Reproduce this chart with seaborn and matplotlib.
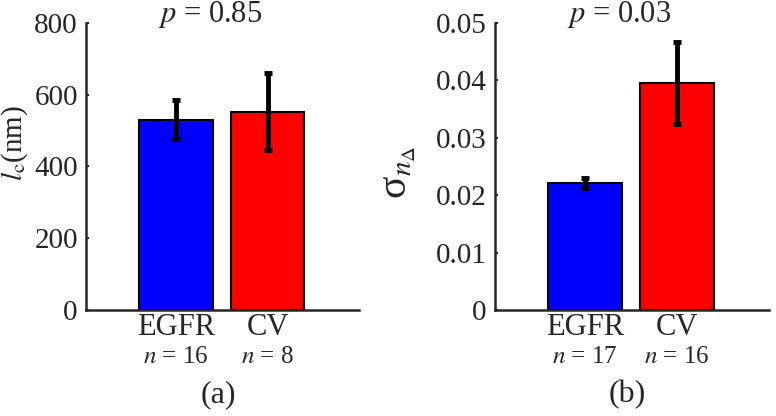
import matplotlib
matplotlib.use("Agg")
import matplotlib.pyplot as plt
import seaborn as sns
import pandas as pd

sns.set_theme(style="ticks")
plt.rcParams['font.family'] = ['Liberation Serif', 'DejaVu Serif']
plt.rcParams['mathtext.fontset'] = 'stix'

# data
groups = ['EGFR', 'CV']
bar_colors = ['#0000ff', '#ff0000']

lc_mean = [530, 553]
lc_err = [55, 106]
lc_n = [16, 8]
lc_p = '0.85'

sigma_mean = [0.0221, 0.0395]
sigma_err = [0.0008, 0.0072]
sigma_n = [17, 16]
sigma_p = '0.03'

fig = plt.figure(figsize=(7.76, 4.16), dpi=100)
ax_a = fig.add_axes([0.111, 0.255, 0.352, 0.690])
ax_b = fig.add_axes([0.638, 0.255, 0.353, 0.690])

panels = [
    (ax_a, lc_mean, lc_err, lc_n, lc_p, (0, 800), [0, 200, 400, 600, 800],
     ['0', '200', '400', '600', '800'], r'$l_{\rm c}$(nm)', 21, '(a)', (-0.205, 0.58)),
    (ax_b, sigma_mean, sigma_err, sigma_n, sigma_p, (0, 0.05),
     [0, 0.01, 0.02, 0.03, 0.04, 0.05],
     ['0', '0.01', '0.02', '0.03', '0.04', '0.05'], r'σ$_{n_\Delta}$', 30, '(b)', (-0.28, 0.48)),
]

for ax, mean, err, n, p, ylim, yticks, yticklabels, ylabel, ylsize, tag, lab_xy in panels:
    df = pd.DataFrame({'group': groups, 'value': mean})
    sns.barplot(data=df, x='group', y='value', hue='group', palette=bar_colors,
                legend=False, width=0.8, edgecolor='black', linewidth=1.5,
                saturation=1, ax=ax)
    ax.errorbar(range(len(groups)), mean, yerr=err, fmt='none', ecolor='black',
                elinewidth=3.5, capsize=3, capthick=3.5, zorder=5)
    ax.set_xlim(-0.98, 2.0)
    ax.set_ylim(*ylim)
    ax.set_yticks(yticks)
    ax.set_yticklabels(yticklabels, fontsize=21)
    ax.set_xticks(range(len(groups)))
    ax.set_xticklabels(groups, fontsize=22)
    ax.tick_params(axis='both', direction='in', length=2, width=1.5, pad=6)
    ax.tick_params(axis='x', length=0, pad=2)
    ax.set_xlabel('')
    ax.set_ylabel(ylabel, fontsize=ylsize)
    ax.yaxis.set_label_coords(*lab_xy)
    sns.despine(ax=ax)
    for s in ['left', 'bottom']:
        ax.spines[s].set_linewidth(1.8)
    trans = ax.get_xaxis_transform()
    for i, cnt in enumerate(n):
        ax.text(i, -0.164, f'$n$ = {cnt}', transform=trans, ha='center',
                va='center', fontsize=18)
    ax.text(0.37, 1.028, f'$p$ = {p}', transform=trans, ha='center',
            va='center', fontsize=22)
    ax.text(0.46, -0.296, tag, transform=trans, ha='center', va='center',
            fontsize=23)

fig.savefig('out.png', dpi=100)
